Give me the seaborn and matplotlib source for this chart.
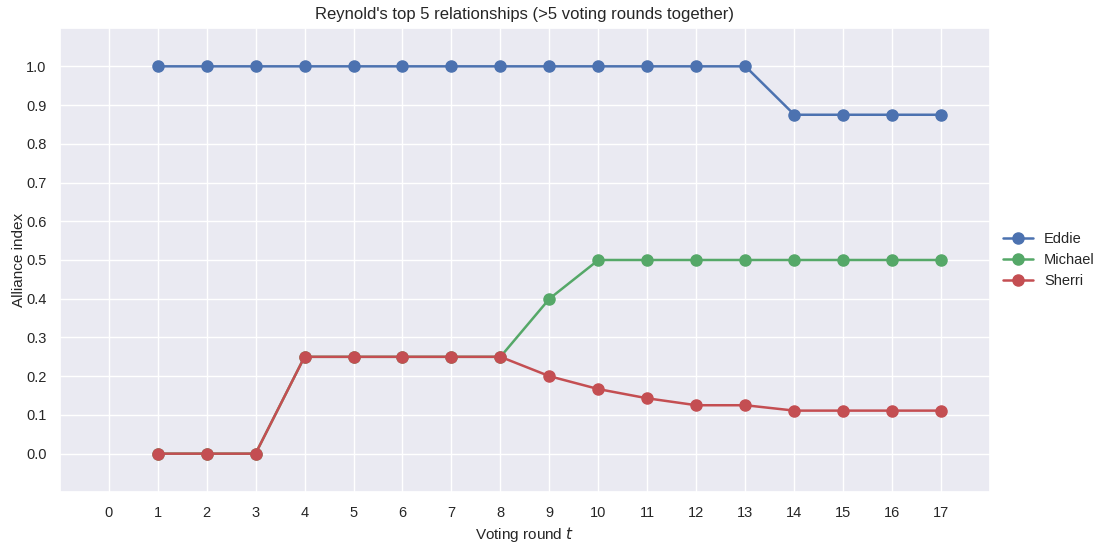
import matplotlib
matplotlib.use("Agg")
import matplotlib.pyplot as plt
import numpy as np
import pandas as pd
import seaborn as sns

rounds = list(range(1, 18))
eddie = [1.0] * 13 + [0.875] * 4
michael = [0.0, 0.0, 0.0, 0.25, 0.25, 0.25, 0.25, 0.25, 0.4,
           0.5, 0.5, 0.5, 0.5, 0.5, 0.5, 0.5, 0.5]
sherri = [0.0, 0.0, 0.0, 0.25, 0.25, 0.25, 0.25, 0.25, 0.2,
          1 / 6, 1 / 7, 0.125, 0.125, 1 / 9, 1 / 9, 1 / 9, 1 / 9]
names = ["Eddie", "Michael", "Sherri"]
# old seaborn "deep" palette: blue, green, red
line_colors = ["#4C72B0", "#55A868", "#C44E52"]
x_ticks = list(range(0, 18))
y_ticks = [0.0, 0.1, 0.2, 0.3, 0.4, 0.5, 0.6, 0.7, 0.8, 0.9, 1.0]

df = pd.DataFrame({
    "round": rounds * 3,
    "alliance": eddie + michael + sherri,
    "name": np.repeat(names, len(rounds)),
})

sns.set_theme(style="darkgrid")
plt.rcParams["font.family"] = ["Liberation Sans", "DejaVu Sans"]
plt.rcParams["mathtext.fontset"] = "dejavusans"

fig, ax = plt.subplots(figsize=(11.04, 5.52), dpi=100)
for name, color in zip(names, line_colors):
    sub = df[df["name"] == name]
    ax.plot(sub["round"], sub["alliance"], marker="o", color=color,
            lw=1.8, markersize=8, label=name)

ax.set_xlim(-1, 18)
ax.set_ylim(-0.1, 1.1)
ax.set_xticks(x_ticks)
ax.set_yticks(y_ticks)
ax.tick_params(labelsize=10.5)
ax.set_xlabel("Voting round $t$", fontsize=11)
ax.set_ylabel("Alliance index", fontsize=11, labelpad=0)
ax.set_title("Reynold's top 5 relationships (>5 voting rounds together)", fontsize=12)
ax.legend(loc="center left", bbox_to_anchor=(1.0, 0.5), frameon=False, fontsize=10.5)

fig.subplots_adjust(left=0.054, right=0.897, top=0.95, bottom=0.108)
fig.savefig("out.png", dpi=100)
